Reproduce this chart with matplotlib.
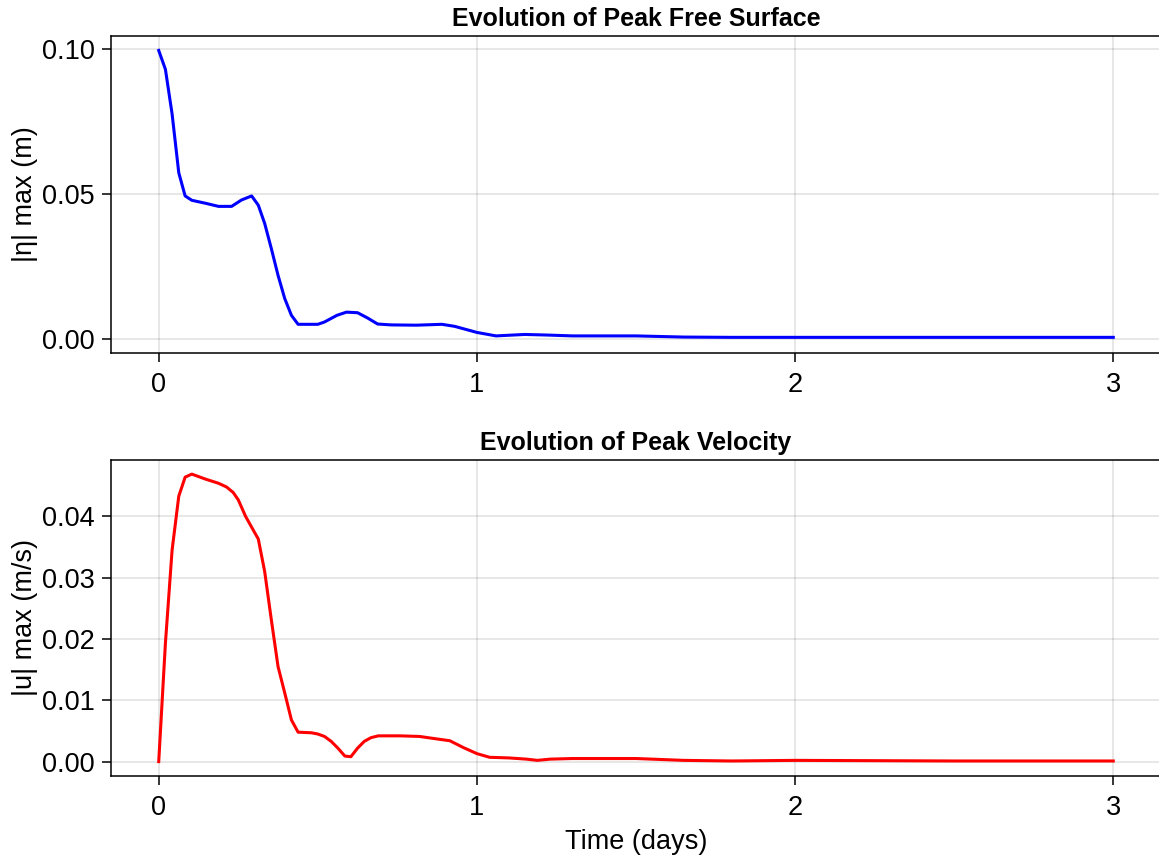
import matplotlib
matplotlib.use("Agg")
import matplotlib.pyplot as plt

plt.rcParams['font.family'] = ['Liberation Sans', 'DejaVu Sans']

# ---- data ----
t_eta = [0, 0.021, 0.042, 0.063, 0.083, 0.104, 0.146, 0.188, 0.229, 0.26,
         0.292, 0.313, 0.333, 0.354, 0.375, 0.396, 0.417, 0.438, 0.5, 0.521,
         0.56, 0.59, 0.625, 0.656, 0.688, 0.73, 0.81, 0.89, 0.93, 1.0,
         1.06, 1.15, 1.22, 1.3, 1.5, 1.65, 1.8, 2.0, 2.5, 3.0]
eta_max = [0.0994, 0.0929, 0.0775, 0.0572, 0.0492, 0.0477, 0.0467, 0.0456, 0.0456, 0.0478,
           0.0492, 0.0460, 0.0397, 0.0310, 0.0218, 0.0138, 0.0080, 0.0049, 0.0049, 0.0057,
           0.0080, 0.0091, 0.0089, 0.0071, 0.0050, 0.0047, 0.0046, 0.0049, 0.0042, 0.0021,
           0.0009, 0.0014, 0.0012, 0.0009, 0.0009, 0.0005, 0.0004, 0.0004, 0.0004, 0.0004]

t_u = [0, 0.021, 0.042, 0.063, 0.083, 0.104, 0.146, 0.188, 0.213, 0.234,
       0.25, 0.273, 0.313, 0.333, 0.354, 0.375, 0.396, 0.417, 0.438, 0.48,
       0.5, 0.521, 0.542, 0.563, 0.585, 0.604, 0.625, 0.646, 0.667, 0.69,
       0.76, 0.82, 0.86, 0.915, 0.957, 1.0, 1.04, 1.1, 1.156, 1.19,
       1.23, 1.3, 1.5, 1.65, 1.8, 2.0, 2.5, 3.0]
u_max = [0, 0.0193, 0.0345, 0.0433, 0.0464, 0.0469, 0.0461, 0.0454, 0.0448, 0.0439,
         0.0427, 0.0400, 0.0363, 0.0310, 0.0231, 0.0155, 0.0112, 0.0068, 0.0048, 0.0047,
         0.0045, 0.0041, 0.0033, 0.0022, 0.0009, 0.0008, 0.0022, 0.0033, 0.0039, 0.0042,
         0.0042, 0.0041, 0.0038, 0.0034, 0.0023, 0.0013, 0.0007, 0.0006, 0.0004, 0.0002,
         0.0004, 0.0005, 0.0005, 0.0002, 0.0001, 0.0002, 0.0001, 0.0001]

x_ticks = [0, 1, 2, 3]
eta_ticks = [0.0, 0.05, 0.10]
u_ticks = [0.0, 0.01, 0.02, 0.03, 0.04]

W, H = 1159, 858
fig = plt.figure(figsize=(W / 100, H / 100), dpi=100)

fs = 19.5
title_fs = 18


def style(ax):
    ax.set_xticks(x_ticks)
    ax.set_xlim(-0.15, 3.15)
    for s in ax.spines.values():
        s.set_linewidth(1.1)
    ax.tick_params(direction="out", length=6.5, width=1.1, labelsize=fs, pad=5)
    ax.tick_params(axis="x", pad=7.5)
    ax.grid(True, color="black", alpha=0.12, linewidth=1.1)
    ax.set_axisbelow(True)


ax1 = fig.add_axes([111 / W, (H - 353) / H, 1050 / W, 317 / H])
ax1.plot(t_eta, eta_max, color="blue", linewidth=2.2)
ax1.set_yticks(eta_ticks)
ax1.set_yticklabels(["0.00", "0.05", "0.10"])
style(ax1)
ax1.set_ylim(-0.005, 0.1044)
ax1.set_title("Evolution of Peak Free Surface", fontsize=title_fs, fontweight="bold", pad=7)
ax1.set_ylabel("|η| max (m)", fontsize=fs)
ax1.yaxis.set_label_coords(-0.07, 0.5)

ax2 = fig.add_axes([111 / W, (H - 776) / H, 1050 / W, 316 / H])
ax2.plot(t_u, u_max, color="red", linewidth=2.2)
ax2.set_yticks(u_ticks)
ax2.set_yticklabels(["0.00", "0.01", "0.02", "0.03", "0.04"])
style(ax2)
ax2.set_ylim(-0.00235, 0.0492)
ax2.set_title("Evolution of Peak Velocity", fontsize=title_fs, fontweight="bold", pad=7)
ax2.set_ylabel("|u| max (m/s)", fontsize=fs)
ax2.yaxis.set_label_coords(-0.07, 0.5)
ax2.set_xlabel("Time (days)", fontsize=fs)
ax2.xaxis.set_label_coords(0.5, -0.168)

fig.savefig("out.png", dpi=100)
